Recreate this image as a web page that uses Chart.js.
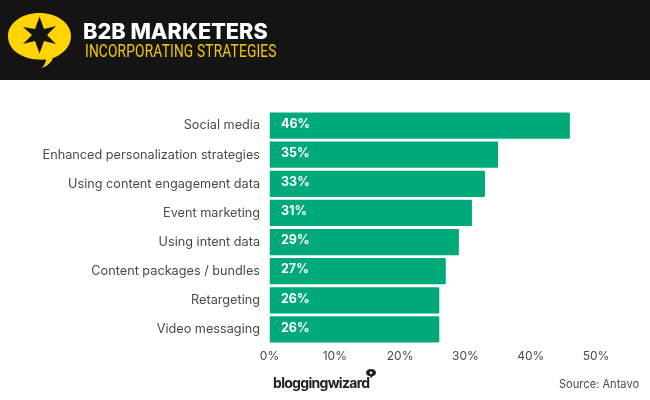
<!DOCTYPE html>
<html>
<head>
<meta charset="utf-8">
<title>B2B Marketers</title>
<script src="https://cdn.jsdelivr.net/npm/chart.js@4/dist/chart.umd.min.js"></script>
<style>
  html, body { margin: 0; padding: 0; background: #fff; }
  #page { position: relative; width: 650px; height: 400px; overflow: hidden; font-family: Inter, sans-serif; }
  #band { position: absolute; left: 0; top: 0; width: 650px; height: 80px; background: #141414; }
  #chart { position: absolute; left: 0; top: 0; }
  .txt { position: absolute; white-space: nowrap; }
  #title { left: 83px; top: 18px; font-size: 21.7px; font-weight: 800; line-height: 26px; color: #fff; }
  #subtitle { left: 85px; top: 40px; font: 400 18px/22px Roboto, sans-serif; color: #f5c800; transform: scaleX(0.765); transform-origin: left top; letter-spacing: 0.2px; }
  #brand { left: 273px; top: 374px; font-size: 14px; font-weight: 700; line-height: 18px; letter-spacing: -0.7px; color: #222; }
  #source { left: 559px; top: 377px; font-size: 11.1px; line-height: 15px; color: #4a4a4a; }
  svg { position: absolute; }
</style>
</head>
<body>
<div id="page">
  <div id="band"></div>
  <canvas id="chart" width="650" height="400"></canvas>

  <!-- speech bubble logo -->
  <svg style="left:0;top:0" width="80" height="80" viewBox="0 0 80 80">
    <path d="M39.500 13 C57 13 71 23 71 36 C71 47 62 55 53 58 C51 63 47 66 42 68 C44.500 65 46 62 46 59.500 C24 61 8 51 8 36 C8 23 22 13 39.500 13 Z" fill="#ffd400"/>
    <path d="M39.500 16.500 L44 29 L56 26 L47 35 L56 44 L44 41 L39.500 53.500 L35 41 L23 44 L32 35 L23 27 L35 29 Z" fill="#141414"/>
  </svg>

  <!-- small bubble on the wordmark -->
  <svg style="left:365px;top:368px" width="13" height="12" viewBox="0 0 13 12">
    <path d="M6 1 C9 1 11 2.600 11 4.800 C11 6.800 9.200 8 7.400 8.300 L6 10.500 L5 8.300 C3 8 1 6.800 1 4.800 C1 2.600 3 1 6 1 Z" fill="#222"/>
    <circle cx="6" cy="4.800" r="1.300" fill="#fff"/>
  </svg>

  <div class="txt" id="title">B2B MARKETERS</div>
  <div class="txt" id="subtitle">INCORPORATING STRATEGIES</div>
  <div class="txt" id="brand">bloggingwizard</div>
  <div class="txt" id="source">Source: Antavo</div>
</div>

<script>
const categories = [
  'Social media',
  'Enhanced personalization strategies',
  'Using content engagement data',
  'Event marketing',
  'Using intent data',
  'Content packages / bundles',
  'Retargeting',
  'Video messaging'
];
const shares = [46, 35, 33, 31, 29, 27, 26, 26];
const tickValues = [0, 10, 20, 30, 40, 50];

// Percent labels sit inside the bars, a touch above centre
const barLabels = {
  id: 'barLabels',
  afterDatasetsDraw(chart) {
    const { ctx, scales } = chart;
    ctx.save();
    ctx.fillStyle = '#fff';
    ctx.font = '700 12.500px Inter, sans-serif';
    ctx.textBaseline = 'middle';
    shares.forEach((v, i) => {
      ctx.fillText(v + '%', scales.x.getPixelForValue(0) + 11.5, scales.y.getPixelForValue(i) - 1.5);
    });
    ctx.restore();
  }
};

new Chart(document.getElementById('chart'), {
  type: 'bar',
  plugins: [barLabels],
  data: {
    labels: categories,
    datasets: [{
      data: shares,
      backgroundColor: '#00a97a',
      borderRadius: 1,
      barPercentage: 0.9,
      categoryPercentage: 1
    }]
  },
  options: {
    indexAxis: 'y',
    responsive: false,
    animation: false,
    layout: { padding: { top: 111, right: 54, bottom: 0, left: 0 } },
    plugins: { legend: { display: false }, tooltip: { enabled: false } },
    scales: {
      x: {
        min: 0,
        max: 50,
        afterFit(s) { s.height = 56; },
        afterBuildTicks(s) { s.ticks = tickValues.map(value => ({ value })); },
        grid: { display: false, tickLength: 5 },
        border: { display: false },
        ticks: {
          color: '#4a4a4a',
          font: { family: 'Inter, sans-serif', size: 12 },
          padding: 0,
          maxRotation: 0,
          callback: v => v + '%'
        }
      },
      y: {
        afterFit(s) { s.width = 269.5; },
        grid: { display: false },
        border: { display: false },
        ticks: {
          color: '#4a4a4a',
          font: { family: 'Inter, sans-serif', size: 12.7 },
          padding: 1.5,
          autoSkip: false
        }
      }
    }
  }
});
</script>
</body>
</html>
